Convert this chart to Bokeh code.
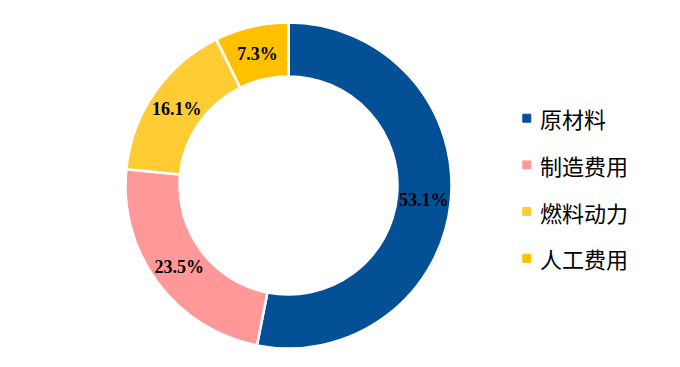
import numpy as np
from bokeh.plotting import figure
from bokeh.models import Range1d, ColumnDataSource
from bokeh.core.properties import value
from bokeh.embed import file_html
from bokeh.resources import INLINE

categories = ["原材料", "制造费用", "燃料动力", "人工费用"]
shares = [53.1, 23.5, 16.1, 7.3]
labels = ["53.1%", "23.5%", "16.1%", "7.3%"]
colors = ["#035096", "#FF9999", "#FFCC33", "#FFC000"]

W, H = 664, 351
p = figure(width=W, height=H, output_backend="svg", toolbar_location=None,
           x_range=Range1d(0, W), y_range=Range1d(0, H), min_border=0,
           background_fill_color="white", border_fill_color="white")
p.axis.visible = False
p.grid.visible = False
p.outline_line_color = None

cx, cy = 288, 166
r_in, r_out = 109, 163

frac = np.array(shares) / np.sum(shares)
cum = np.concatenate([[0], np.cumsum(frac)])
start = np.pi / 2 - 2 * np.pi * cum[:-1]
end = np.pi / 2 - 2 * np.pi * cum[1:]
mid = (start + end) / 2

src = ColumnDataSource(dict(start=start, end=end, color=colors))
p.annular_wedge(x=cx, y=cy, inner_radius=r_in, outer_radius=r_out,
                start_angle="start", end_angle="end", direction="clock",
                fill_color="color", line_color="white", line_width=2.5, source=src)

r_lab = (r_in + r_out) / 2
lsrc = ColumnDataSource(dict(x=cx + r_lab * np.cos(mid), y=cy + r_lab * np.sin(mid) - 1, t=labels))
p.text(x="x", y="y", text="t", source=lsrc, text_align="center", text_baseline="middle",
       text_font=value("Liberation Serif"), text_font_style="bold",
       text_font_size="18px", text_color="black")

# legend
n = len(categories)
ly = 233.3 - 46.7 * np.arange(n)
gsrc = ColumnDataSource(dict(x=[526.3] * n, y=ly, color=colors, t=categories, tx=[539.5] * n))
p.scatter(x="x", y="y", marker="square", size=8, fill_color="color", line_color="color", source=gsrc)
p.text(x="tx", y="y", text="t", source=gsrc, text_align="left", text_baseline="middle",
       text_font=value("Noto Sans CJK SC"), text_font_size="22px", text_color="black")

open("out.html", "w").write(file_html(p, INLINE))
